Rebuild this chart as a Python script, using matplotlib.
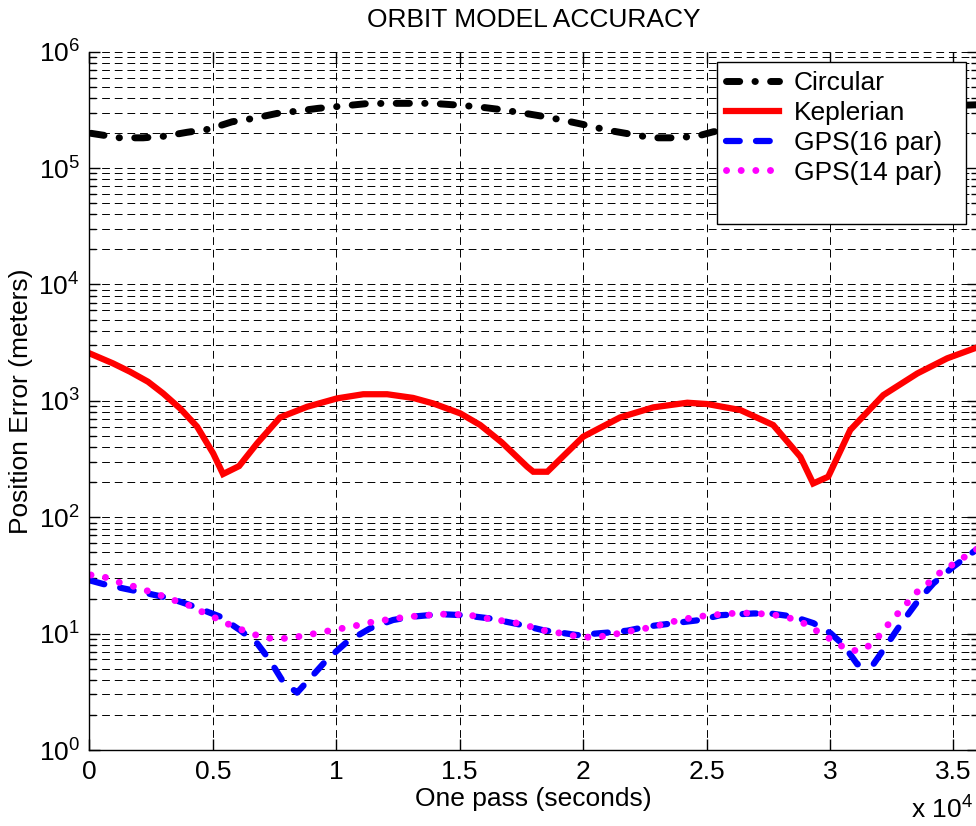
import matplotlib
matplotlib.use("Agg")
import matplotlib.pyplot as plt
from matplotlib.lines import Line2D
from matplotlib.ticker import FixedLocator, FuncFormatter, LogLocator, NullFormatter

plt.rcParams['font.family'] = ['Liberation Sans', 'DejaVu Sans']
plt.rcParams['mathtext.fontset'] = 'custom'
plt.rcParams['mathtext.rm'] = 'Liberation Sans'
plt.rcParams['mathtext.it'] = 'Liberation Sans'
plt.rcParams['mathtext.default'] = 'regular'

# circular orbit model error (time in seconds, error in meters)
t_circ = [60, 1230, 2170, 3060, 3950, 4840, 5780, 6630, 7600, 8410, 9260, 10230,
          11170, 12060, 12990, 13880, 14730, 15710, 16520, 17450, 18260, 19190,
          20000, 20970, 21900, 22800, 23730, 24620, 25270, 27000, 29000, 31000,
          33000, 35000, 36000]
err_circ = [1.99e5, 1.82e5, 1.82e5, 1.88e5, 2.03e5, 2.16e5, 2.5e5, 2.67e5, 2.95e5,
            3.09e5, 3.26e5, 3.41e5, 3.57e5, 3.6e5, 3.6e5, 3.6e5, 3.5e5, 3.37e5,
            3.21e5, 3.0e5, 2.81e5, 2.58e5, 2.37e5, 2.12e5, 1.96e5, 1.82e5, 1.82e5,
            1.88e5, 2.05e5, 2.3e5, 2.7e5, 3.05e5, 3.3e5, 3.45e5, 3.5e5]

# keplerian model error
t_kep = [0, 950, 1640, 2370, 2980, 3670, 4360, 5010, 5410, 6060, 6790, 7720, 8820,
         10030, 11090, 12060, 13110, 13920, 15020, 15830, 16700, 17730, 17980,
         18550, 20000, 21500, 22840, 24220, 25030, 26370, 27700, 28800, 29320,
         29930, 30820, 32160, 33540, 34750, 36000]
err_kep = [2560, 2100, 1780, 1460, 1160, 861, 600, 354, 235, 275, 431, 721, 890,
           1050, 1140, 1140, 1060, 951, 781, 620, 440, 272, 246, 246, 492, 721,
           879, 964, 939, 834, 620, 331, 195, 223, 561, 1120, 1720, 2320, 2900]

# GPS ephemeris fit, 16 parameters
t_gps16 = [60, 550, 1360, 2330, 3260, 4070, 5290, 6100, 6790, 7300, 7840, 8410,
           9060, 9630, 10440, 11370, 12300, 13110, 14210, 15140, 16230, 17330,
           18380, 19760, 20980, 21790, 22600, 23810, 24750, 25560, 26900, 27590,
           28520, 29330, 30020, 30550, 31110, 31760, 32160, 32850, 33540, 34190,
           35000, 36000]
err_gps16 = [28.5, 26.7, 24.5, 22.2, 20.1, 17.6, 14.0, 10.7, 8.26, 5.93, 3.87, 3.11,
             4.41, 6.01, 8.52, 11.1, 13.1, 14.0, 14.7, 14.4, 13.5, 12.1, 10.7, 9.72,
             10.2, 10.6, 11.5, 12.4, 13.1, 14.4, 14.9, 14.9, 14.0, 12.3, 10.1, 7.98,
             5.45, 5.45, 7.23, 11.9, 18.8, 27.0, 37.6, 54]

# GPS ephemeris fit, 14 parameters
t_gps14 = [60, 630, 1240, 1840, 2450, 2980, 3590, 4200, 4680, 5290, 5820, 6380,
           6990, 7600, 8210, 8820, 9420, 10030, 10640, 11210, 11780, 12390, 13000,
           13680, 14290, 14900, 15500, 16110, 16720, 17330, 17860, 18460, 19070,
           19680, 20290, 20900, 21500, 22110, 22720, 23290, 23900, 24500, 25110,
           25720, 26330, 26940, 27540, 28150, 28760, 29290, 29820, 30340, 30830,
           31390, 31880, 32240, 32650, 33060, 33460, 33950, 34390, 34920, 36000]
err_gps14 = [31.9, 30.5, 27.4, 25.3, 22.9, 21.0, 18.8, 17.0, 14.9, 13.1, 11.5, 10.4,
             9.29, 8.99, 9.23, 9.72, 10.3, 10.9, 11.5, 12.3, 12.9, 13.5, 14.0, 14.4,
             14.7, 14.6, 14.3, 13.5, 12.9, 12.3, 11.5, 10.6, 10.1, 9.53, 9.29, 9.53,
             10.1, 10.7, 11.3, 12.1, 13.1, 13.8, 14.4, 14.7, 15.1, 14.9, 14.7, 14.0,
             12.9, 11.1, 9.53, 8.1, 7.1, 7.3, 8.94, 11.2, 14.1, 17.6, 22.2, 26.7,
             32.6, 38.6, 54]

x_ticks = [0, 5000, 10000, 15000, 20000, 25000, 30000, 35000]
x_tick_labels = ['0', '0.5', '1', '1.5', '2', '2.5', '3', '3.5']

FS = 19

fig = plt.figure(figsize=(9.76, 8.26), dpi=100)
ax = fig.add_axes([0.0917, 0.092, 0.9104, 0.8454])

ax.plot(t_circ, err_circ, color='k', lw=5, dashes=(1.9, 2.2, 0.05, 2.2),
        dash_capstyle='round', solid_capstyle='round', label='Circular')
ax.plot(t_kep, err_kep, color='#ff0000', lw=4.5, solid_joinstyle='miter',
        label='Keplerian')
ax.plot(t_gps16, err_gps16, color='#0000ff', lw=4.5, dashes=(2.2, 2.6),
        dash_capstyle='round', label='GPS(16 par)')
ax.plot(t_gps14, err_gps14, color='#ff00ff', lw=5, dashes=(0.01, 2.1),
        dash_capstyle='round', label='GPS(14 par)')

ax.set_yscale('log')
ax.set_ylim(1, 1e6)
ax.set_xlim(0, 36000)
ax.xaxis.set_major_locator(FixedLocator(x_ticks))
ax.xaxis.set_major_formatter(FuncFormatter(
    lambda v, p: x_tick_labels[x_ticks.index(int(round(v)))] if int(round(v)) in x_ticks else ''))
ax.yaxis.set_major_locator(LogLocator(base=10, numticks=10))
ax.yaxis.set_minor_locator(LogLocator(base=10, subs=range(2, 10), numticks=20))
ax.yaxis.set_minor_formatter(NullFormatter())

grid_style = dict(color='k', lw=0.7, linestyle=(0, (8, 5)))
ax.grid(True, which='major', axis='both', **grid_style)
ax.grid(True, which='minor', axis='y', **grid_style)

for side in ['top', 'right']:
    ax.spines[side].set_visible(False)
ax.spines['left'].set_linewidth(1.0)
ax.spines['bottom'].set_linewidth(1.0)
ax.tick_params(which='both', direction='in', top=True, right=True, labelsize=FS, width=1.0)
ax.tick_params(which='major', length=8, pad=7)
ax.tick_params(which='minor', length=5)

ax.set_title('ORBIT MODEL ACCURACY', fontsize=FS, pad=18)
ax.set_xlabel('One pass (seconds)', fontsize=FS, labelpad=2)
ax.set_ylabel('Position Error (meters)', fontsize=FS, labelpad=4)
fig.text(0.997, 0.003, r'x $10^{4}$', fontsize=FS, ha='right', va='bottom')

# legend box spans a fixed region of the figure, with a blank last row
handles, labels = ax.get_legend_handles_labels()
handles.append(Line2D([], [], color='none'))
labels.append(' ')
leg_box = (717 / 976, 1 - 224 / 826, 249 / 976, 162 / 826)
leg = ax.legend(handles, labels, loc='upper left', bbox_to_anchor=leg_box, mode='expand',
                bbox_transform=fig.transFigure, fontsize=FS, frameon=True, fancybox=False,
                framealpha=1, edgecolor='k', handlelength=2.0, borderaxespad=0,
                labelspacing=0.22, handletextpad=0.55, borderpad=0.35)
leg.get_frame().set_linewidth(1.0)

fig.savefig('out.png', dpi=100)
